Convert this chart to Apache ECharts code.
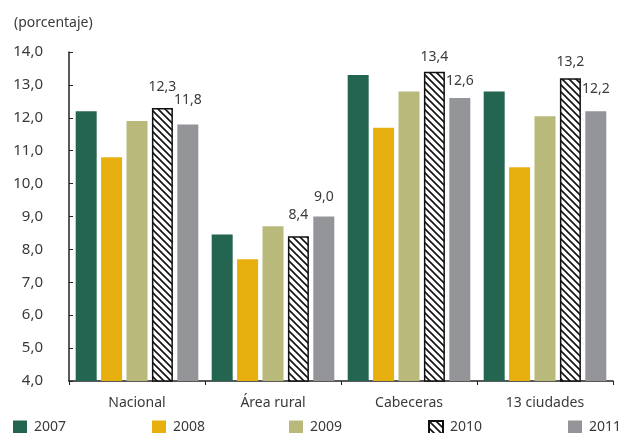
<!DOCTYPE html>
<html><head><meta charset="utf-8">
<script src="https://cdn.jsdelivr.net/npm/echarts@6/dist/echarts.min.js"></script>
<style>html,body{margin:0;padding:0;background:#fff}#c{width:623px;height:433px}</style>
</head><body><div id="c"></div>
<script>
var categories = ['Nacional', 'Área rural', 'Cabeceras', '13 ciudades'];
var years = ['2007', '2008', '2009', '2010', '2011'];
var v2007 = [12.2, 8.45, 13.3, 12.8];
var v2008 = [10.8, 7.7, 11.7, 10.5];
var v2009 = [11.9, 8.7, 12.8, 12.05];
var v2010 = [12.3, 8.4, 13.4, 13.2];
var v2011 = [11.8, 9.0, 12.6, 12.2];
var yTicks = [4, 5, 6, 7, 8, 9, 10, 11, 12, 13, 14];

// label placement (style only)
var labelDist2010 = [14, 14, 8, 9];
var labelDist2011 = [17, 12, 10, 15];

var FONT = '"Noto Sans", "Open Sans", sans-serif';
function hatch() {
  var c = document.createElement('canvas');
  c.width = 7; c.height = 7;
  var g = c.getContext('2d');
  g.fillStyle = '#fff'; g.fillRect(0, 0, 7, 7);
  g.strokeStyle = '#111'; g.lineWidth = 1.6;
  g.beginPath();
  g.moveTo(-1, -1); g.lineTo(8, 8);
  g.moveTo(-1, 6); g.lineTo(1, 8);
  g.moveTo(6, -1); g.lineTo(8, 1);
  g.stroke();
  return c;
}
var colors = ['#236550', '#E8B00F', '#B9B97C', {image: hatch(), repeat: 'repeat'}, '#949599'];
var values = [v2007, v2008, v2009, v2010, v2011];
var legendLeft = [13, 152, 289, 428, 568];
var TXT = '#3a3a3a';

function fmt(v) { return v.toFixed(1).replace('.', ','); }

var chart = echarts.init(document.getElementById('c'), null, {renderer: 'canvas'});
var series = years.map(function (y, i) {
  var s = {
    name: y, type: 'bar', barWidth: 21, barGap: '21%',
    itemStyle: {color: colors[i]}
  };
  if (i === 3) {
    s.itemStyle.borderColor = '#111';
    s.itemStyle.borderWidth = 1.5;
  }
  if (i >= 3) {
    var dists = i === 3 ? labelDist2010 : labelDist2011;
    s.data = values[i].map(function (v, k) {
      return {value: v, label: {distance: dists[k]}};
    });
    s.label = {show: true, position: 'top', color: TXT, fontSize: 14, fontFamily: FONT, lineHeight: 14,
      formatter: function (p) { return fmt(p.value); }};
  } else {
    s.data = values[i];
  }
  return s;
});
chart.setOption({
  animation: false,
  textStyle: {fontFamily: FONT},
  grid: {left: 69, right: 10, top: 52, bottom: 52},
  legend: years.map(function (y, i) {
    return {data: [y], left: legendLeft[i], top: 420, padding: 0, itemWidth: 14, itemHeight: 13, itemGap: 8,
      textStyle: {fontSize: 14, lineHeight: 14, height: 14, verticalAlign: 'middle', color: TXT, fontFamily: FONT, padding: [0, 0, 0, 2]},
      icon: 'rect'};
  }),
  xAxis: {
    type: 'category', data: categories,
    axisLine: {lineStyle: {color: '#222', width: 1.5}},
    axisTick: {show: true, length: 4, lineStyle: {color: '#222'}},
    axisLabel: {color: TXT, fontSize: 14, margin: 15, fontFamily: FONT}
  },
  yAxis: {
    type: 'value', min: yTicks[0], max: yTicks[yTicks.length - 1], interval: 1,
    splitLine: {show: false},
    axisLine: {show: true, lineStyle: {color: '#222', width: 1.5}},
    axisTick: {show: true, inside: true, length: 4, lineStyle: {color: '#222'}},
    axisLabel: {color: TXT, fontSize: 15, margin: 26, fontFamily: FONT, formatter: fmt},
    name: '(porcentaje)', nameLocation: 'end', nameGap: 22,
    nameTextStyle: {color: TXT, fontSize: 14, align: 'left', padding: [0, 0, 0, -55], fontFamily: FONT}
  },
  series: series
});
</script></body></html>
